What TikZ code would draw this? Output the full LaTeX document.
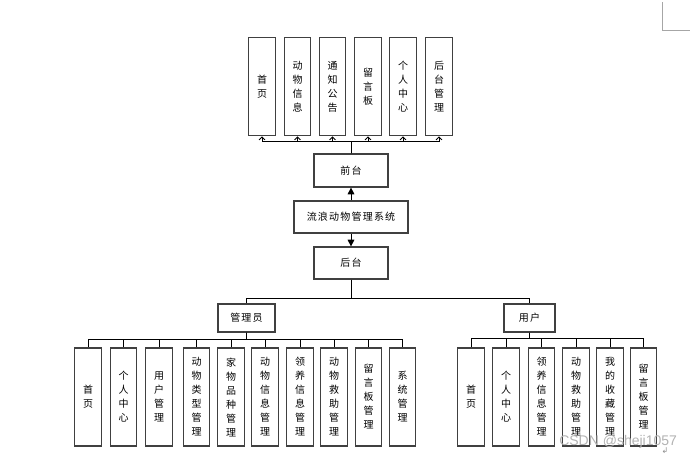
\documentclass[tikz,border=0pt]{standalone}
\usepackage{fontspec}
\setsansfont{Liberation Sans}
\newfontfamily\cjk[LetterSpace=12]{Noto Sans CJK SC}
\newfontfamily\symfont{DejaVu Sans}
\usetikzlibrary{arrows.meta}

\tikzset{
  vbox/.style={draw=black!75, line width=0.9pt, minimum width=20pt, minimum height=74pt,
    inner sep=0pt, align=center, font=\cjk\fontsize{7.5pt}{10.5pt}\selectfont},
  hbox/.style={draw=black!75, line width=0.9pt, inner sep=0pt,
    font=\cjk\fontsize{7.5pt}{9pt}\selectfont},
  conn/.style={line width=0.6pt},
  uparrow/.style={conn, -{Straight Barb[length=2.2pt,width=4.5pt]}},
  sysarrow/.style={conn, -{Triangle[length=5pt,width=5pt]}},
}

\begin{document}
\begin{tikzpicture}[x=0.75pt,y=0.75pt,yscale=-1,xscale=1]
        \useasboundingbox (0,0) rectangle (695,458);

        %page corner mark
        \draw [black!35, line width=0.75pt] (662,2) -- (662,30) -- (690,30) ;

        %System and the two parts
        \node [hbox, minimum width=85.5pt, minimum height=24pt] (sys) at (351,217) {流浪动物管理系统};
        \node [hbox, minimum width=55.5pt, minimum height=24.75pt] (qiantai) at (351,170.5) {前台};
        \node [hbox, minimum width=55.5pt, minimum height=24pt] (houtai) at (351,263) {后台};
        \draw [sysarrow] (sys) -- (qiantai) ;
        \draw [sysarrow] (sys) -- (houtai) ;

        %Front pages
        \node [vbox] (t1) at (262,86.5) {首\\页};
        \node [vbox] (t2) at (297.5,86.5) {动\\物\\信\\息};
        \node [vbox] (t3) at (332.5,86.5) {通\\知\\公\\告};
        \node [vbox] (t4) at (368,86.5) {留\\言\\板};
        \node [vbox] (t5) at (403,86.5) {个\\人\\中\\心};
        \node [vbox] (t6) at (439,86.5) {后\\台\\管\\理};
        \foreach \i in {1,...,6}
          \draw [uparrow] (qiantai.north) -- ++(0,-12.5) -| (t\i.south) ;

        %Roles
        \node [hbox, minimum width=42.75pt, minimum height=21pt] (admin) at (246.5,318) {管理员};
        \node [hbox, minimum width=38.25pt, minimum height=21pt] (user) at (529.5,318) {用户};
        \draw [conn] (houtai.south) -- ++(0,19) -| (admin.north) ;
        \draw [conn] (houtai.south) -- ++(0,19) -| (user.north) ;

        %Admin modules
        \node [vbox, minimum height=73.5pt] (a1) at (88,397) {首\\页};
        \node [vbox, minimum height=73.5pt] (a2) at (123.5,397) {个\\人\\中\\心};
        \node [vbox, minimum height=73.5pt] (a3) at (159,397) {用\\户\\管\\理};
        \node [vbox, minimum height=73.5pt] (a4) at (196.5,397) {动\\物\\类\\型\\管\\理};
        \node [vbox, minimum height=73.5pt] (a5) at (231,397) {家\\物\\品\\种\\管\\理};
        \node [vbox, minimum height=73.5pt] (a6) at (265,397) {动\\物\\信\\息\\管\\理};
        \node [vbox, minimum height=73.5pt] (a7) at (300,397) {领\\养\\信\\息\\管\\理};
        \node [vbox, minimum height=73.5pt] (a8) at (334,397) {动\\物\\救\\助\\管\\理};
        \node [vbox, minimum height=73.5pt] (a9) at (368.5,397) {留\\言\\板\\管\\理};
        \node [vbox, minimum height=73.5pt] (a10) at (402.5,397) {系\\统\\管\\理};
        \foreach \i in {1,...,10}
          \draw [conn] (admin.south) -- ++(0,7) -| (a\i.north) ;

        %User modules
        \node [vbox, minimum height=73.5pt] (u1) at (471,397) {首\\页};
        \node [vbox, minimum height=73.5pt] (u2) at (506,397) {个\\人\\中\\心};
        \node [vbox, minimum height=73.5pt] (u3) at (541.5,397) {领\\养\\信\\息\\管\\理};
        \node [vbox, minimum height=73.5pt] (u4) at (576,397) {动\\物\\救\\助\\管\\理};
        \node [vbox, minimum height=73.5pt] (u5) at (610,397) {我\\的\\收\\藏\\管\\理};
        \node [vbox, minimum height=73.5pt] (u6) at (643.5,397) {留\\言\\板\\管\\理};
        \foreach \i in {1,...,6}
          \draw [conn] (user.south) -- ++(0,6) -| (u\i.north) ;

        % Text Node
        \node [anchor=base west, inner sep=0pt, text=black!30, font=\sffamily\fontsize{10.5pt}{12pt}\selectfont] (mark) at (559,445) {CSDN @sheji1057};
        \node [anchor=center, inner sep=0pt, text=black!45, font=\symfont\fontsize{6pt}{7pt}\selectfont] (para) at (665,451) {↲};

\end{tikzpicture}
\end{document}
